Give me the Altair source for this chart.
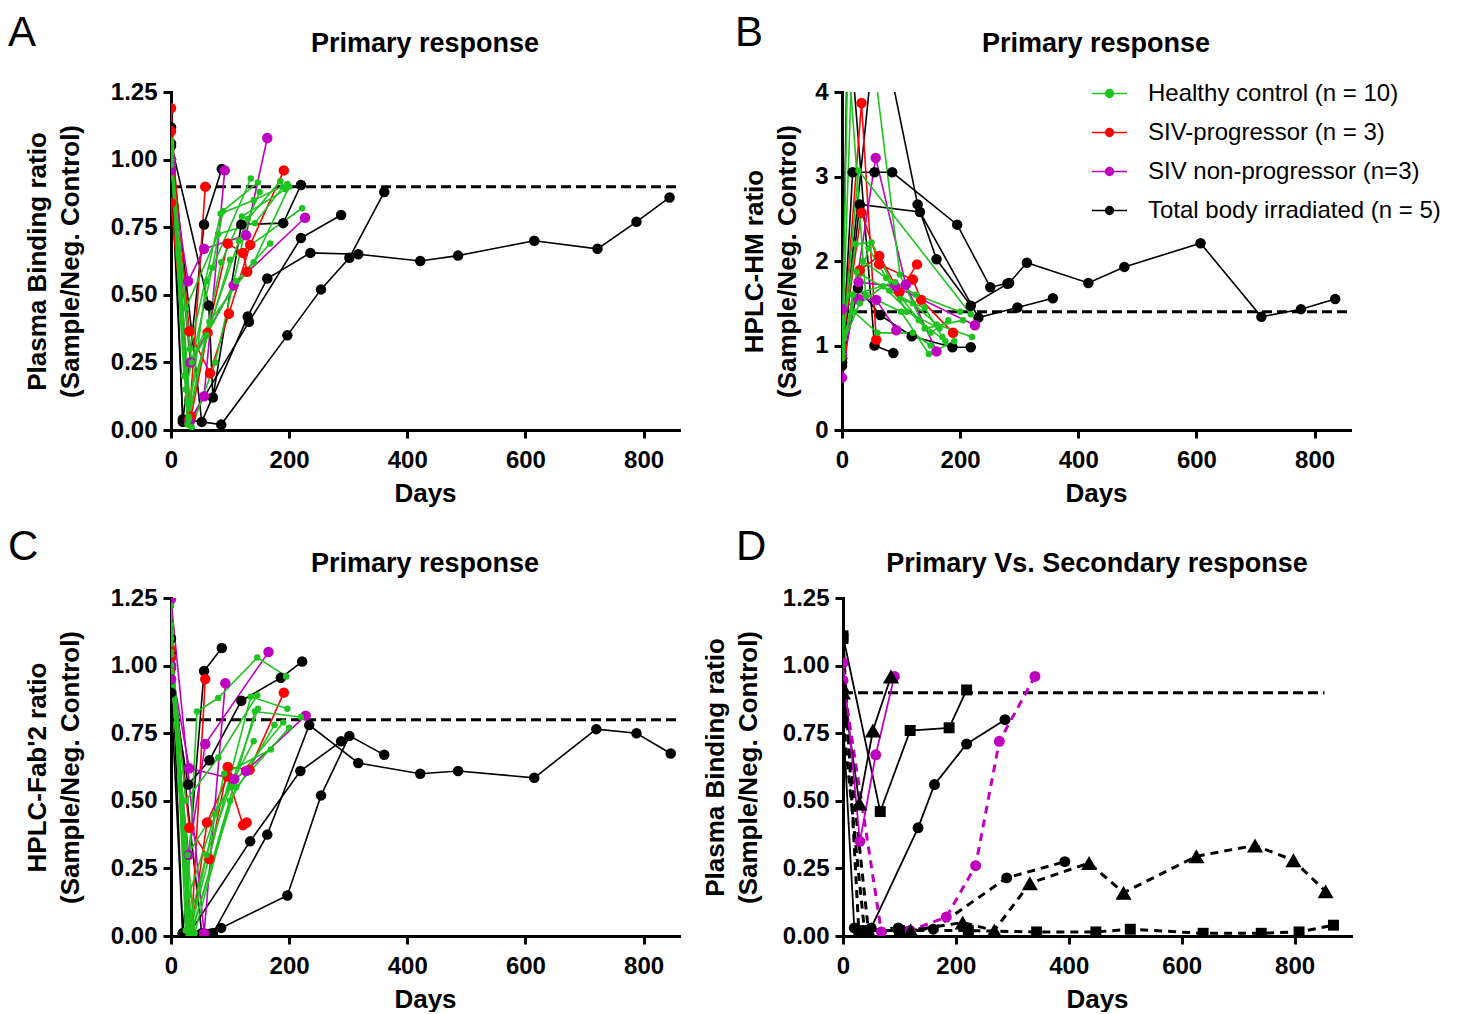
import altair as alt
import pandas as pd

FONT = "Liberation Sans"
GREEN, RED, PURPLE, BLACK = "#1ec41e", "#ff0000", "#c000c0", "#000000"
GROUPS = ["Healthy control (n = 10)", "SIV-progressor (n = 3)",
          "SIV non-progressor (n=3)", "Total body irradiated (n = 5)"]
COLORS = [GREEN, RED, PURPLE, BLACK]

# ---------------- Panel A : plasma binding ratio ----------------
A_black = [
    [(0, 1.12), (20, 0.03), (56, 0.76), (86, 0.965)],
    [(0, 1.06), (64, 0.46), (71, 0.12), (119, 0.76), (190, 0.765), (220, 0.906)],
    [(0, 1.00), (31, 0.03), (132, 0.40), (220, 0.71), (288, 0.795)],
    [(0, 0.98), (20, 0.04), (85, 0.02), (197, 0.35), (254, 0.52), (302, 0.637), (361, 0.88)],
    [(0, 1.05), (52, 0.03), (130, 0.42), (163, 0.56), (236, 0.655), (317, 0.65), (422, 0.625),
     (486, 0.645), (615, 0.70), (722, 0.67), (788, 0.77), (844, 0.86)],
]
A_red = [
    [(0, 1.19), (31, 0.04), (58, 0.90)],
    [(0, 1.105), (31, 0.365), (66, 0.21), (98, 0.43), (134, 0.685), (191, 0.96)],
    [(0, 0.84), (34, 0.05), (62, 0.36), (96, 0.69), (122, 0.655), (129, 0.585)],
]
A_purple = [
    [(0, 1.00), (31, 0.03), (56, 0.125), (91, 0.96)],
    [(0, 0.96), (29, 0.55), (56, 0.67), (127, 0.72), (163, 1.08)],
    [(0, 0.98), (33, 0.25), (106, 0.535), (227, 0.785)],
]
A_green = [
    [(0, 1.07), (28, 0.02), (60, 0.55), (135, 0.93)],
    [(0, 1.05), (25, 0.15), (70, 0.60), (88, 0.81), (147, 0.915)],
    [(0, 1.03), (30, 0.05), (85, 0.62), (120, 0.79), (194, 0.89)],
    [(0, 1.00), (32, 0.30), (84, 0.80), (140, 0.85), (197, 0.91)],
    [(0, 1.02), (28, 0.10), (100, 0.63), (222, 0.82)],
    [(0, 0.98), (35, 0.25), (110, 0.55), (168, 0.69)],
    [(0, 1.04), (25, 0.45), (80, 0.725), (142, 0.765), (190, 0.90)],
    [(0, 1.06), (30, 0.04), (60, 0.35), (115, 0.70), (150, 0.88)],
    [(0, 1.00), (22, 0.20), (65, 0.40), (140, 0.62), (200, 0.90)],
    [(0, 1.05), (35, 0.01), (75, 0.25), (130, 0.78), (185, 0.92)],
]

# ---------------- Panel B : HPLC-HM ratio ----------------
B_black = [
    [(0, 0.80), (18, 3.05), (55, 3.05), (85, 3.05), (195, 2.43), (251, 1.69), (283, 1.74),
     (313, 1.98), (417, 1.74), (478, 1.93), (607, 2.21), (710, 1.34), (777, 1.43), (835, 1.55)],
    [(0, 0.85), (60, 5.0), (128, 2.67), (160, 2.02), (218, 1.47), (280, 1.73)],
    [(0, 0.80), (30, 2.67), (132, 2.58), (231, 1.33), (297, 1.45), (357, 1.56)],
    [(0, 0.76), (27, 1.68), (65, 1.36), (118, 1.11), (187, 0.98), (218, 0.98)],
    [(0, 0.85), (10, 5.0), (55, 1.0), (87, 0.91)],
]
B_red = [
    [(0, 0.88), (33, 3.87), (58, 1.07)],
    [(0, 1.00), (33, 2.57), (63, 1.96), (120, 1.78), (134, 1.54), (188, 1.15)],
    [(0, 0.95), (30, 1.89), (63, 2.06), (97, 1.63), (127, 1.96)],
]
B_purple = [
    [(0, 0.62), (57, 3.22), (108, 1.72), (160, 0.93)],
    [(0, 1.43), (28, 1.55), (58, 1.54), (92, 1.18)],
    [(0, 0.90), (28, 1.75), (90, 1.70), (225, 1.24)],
]
B_green = [
    [(0, 0.90), (25, 6.0), (98, 1.84), (140, 1.20), (205, 1.30)],
    [(0, 0.95), (28, 3.07), (218, 1.37)],
    [(0, 1.05), (23, 2.20), (50, 2.22), (98, 1.55), (140, 1.45), (170, 1.10)],
    [(0, 0.85), (25, 1.87), (80, 1.65), (120, 1.50), (160, 1.25), (220, 1.10)],
    [(0, 0.90), (10, 4.5), (40, 1.60), (100, 1.40), (147, 0.90), (190, 1.05)],
    [(0, 1.10), (20, 1.40), (60, 1.15), (120, 1.15), (150, 1.00)],
    [(0, 0.95), (35, 2.00), (75, 1.80), (130, 1.30), (175, 1.05)],
    [(0, 1.00), (45, 2.15), (110, 1.40), (165, 1.20)],
    [(0, 0.85), (18, 1.60), (90, 1.75), (125, 1.60), (200, 1.40)],
    [(0, 1.00), (30, 1.50), (70, 1.70), (150, 1.15), (180, 1.30)],
]

# ---------------- Panel C : HPLC-Fab'2 ratio ----------------
C_black = [
    [(0, 1.10), (20, 0.01), (56, 0.98), (86, 1.065)],
    [(0, 0.95), (29, 0.56), (65, 0.65), (119, 0.87), (186, 0.955), (222, 1.015)],
    [(0, 1.00), (31, 0.01), (134, 0.35), (219, 0.61), (288, 0.72)],
    [(0, 0.90), (20, 0.01), (85, 0.03), (197, 0.15), (254, 0.52), (302, 0.74), (361, 0.67)],
    [(0, 1.05), (52, 0.01), (71, 0.01), (163, 0.375), (234, 0.78), (317, 0.64), (422, 0.60),
     (486, 0.61), (615, 0.585), (720, 0.765), (788, 0.75), (846, 0.675)],
]
C_red = [
    [(0, 1.06), (34, 0.00), (58, 0.95)],
    [(0, 1.03), (31, 0.40), (65, 0.285), (96, 0.625), (133, 0.615), (191, 0.90)],
    [(0, 0.99), (34, 0.01), (61, 0.42), (96, 0.59), (122, 0.41), (128, 0.42)],
]
C_purple = [
    [(0, 1.245), (56, 0.01), (92, 0.935)],
    [(0, 0.95), (30, 0.30), (58, 0.71), (165, 1.05)],
    [(0, 1.00), (31, 0.62), (107, 0.58), (127, 0.61), (228, 0.815)],
]
C_green = [
    [(0, 1.22), (25, 0.02), (44, 0.83), (80, 0.88), (146, 1.03), (195, 0.96)],
    [(0, 1.15), (30, 0.00), (135, 0.885), (197, 0.84)],
    [(0, 1.10), (35, 0.01), (142, 0.83), (220, 0.81)],
    [(0, 1.05), (28, 0.30), (100, 0.55), (190, 0.79)],
    [(0, 1.00), (32, 0.01), (90, 0.60), (169, 0.69)],
    [(0, 1.08), (25, 0.50), (80, 0.66), (146, 0.89)],
    [(0, 1.12), (35, 0.02), (110, 0.55), (200, 0.77)],
    [(0, 0.98), (30, 0.15), (75, 0.45), (140, 0.72)],
    [(0, 1.04), (28, 0.03), (60, 0.30), (147, 0.84)],
    [(0, 1.00), (40, 0.01), (100, 0.50), (175, 0.78)],
]

# ---------------- Panel D : primary vs secondary ----------------
D_series_names = ["tbi_sq_1", "tbi_tri_1", "tbi_ci_1", "np_1", "np_2", "tbi_sq_2", "tbi_tri_2", "tbi_ci_2"]
D_series_marker = ["square", "triangle", "circle", "circle", "circle", "square", "triangle", "circle"]
D_series_colour = ["TBI", "TBI", "TBI", "SIVnp", "SIVnp", "TBI", "TBI", "TBI"]
D_series_phase = ["primary", "primary", "primary", "primary", "secondary", "secondary", "secondary", "secondary"]
D_series_points = [
    [(0, 1.11), (66, 0.46), (119, 0.76), (188, 0.77), (219, 0.91)],
    [(0, 0.92), (29, 0.49), (53, 0.76), (85, 0.96)],
    [(0, 0.80), (20, 0.03), (50, 0.03), (133, 0.40), (162, 0.56), (219, 0.71), (287, 0.80)],
    [(0, 1.01), (30, 0.35), (58, 0.67), (91, 0.96)],
    [(0, 0.945), (68, 0.015), (119, 0.02), (183, 0.07), (235, 0.26), (277, 0.72), (340, 0.96)],
    [(0, 1.10), (28, 0.02), (100, 0.02), (222, 0.02), (343, 0.015), (448, 0.015), (509, 0.025),
     (638, 0.01), (741, 0.01), (808, 0.015), (869, 0.04)],
    [(0, 0.90), (45, 0.02), (120, 0.02), (212, 0.05), (268, 0.02), (331, 0.195), (436, 0.27),
     (497, 0.16), (626, 0.295), (730, 0.335), (798, 0.28), (855, 0.165)],
    [(0, 0.80), (38, 0.02), (98, 0.03), (160, 0.025), (290, 0.215), (393, 0.275)],
]

THRESH = {"A": 0.9, "B": 1.4, "C": 0.8, "D": 0.9}
THRESH_END = {"A": 860, "B": 860, "C": 860, "D": 853}

W, H = 508, 338
LEG_PATH = ("M-1,0L1,0"
            "M-0.22,0A0.22,0.22,0,1,0,0.22,0A0.22,0.22,0,1,0,-0.22,0"
            "M-0.13,0A0.13,0.13,0,1,0,0.13,0A0.13,0.13,0,1,0,-0.13,0"
            "M-0.05,0A0.05,0.05,0,1,0,0.05,0A0.05,0.05,0,1,0,-0.05,0")


def build(black, red, purple, green):
    rows = []
    for li, (g, sl) in enumerate([(3, black), (1, red), (2, purple), (0, green)]):
        for si, s in enumerate(sl):
            for oi, (d, v) in enumerate(s):
                rows.append(dict(group=GROUPS[g], sid=f"{li}_{si:02d}", ord=oi, day=d, value=v))
    return pd.DataFrame(rows)


def x_enc(xmax):
    return alt.X("day:Q", scale=alt.Scale(domain=[0, xmax], nice=False, zero=False),
                 axis=alt.Axis(values=[0, 200, 400, 600, 800], title="Days"))


def y_enc(ydom, yvals, yfmt, ytitle, tpad):
    return alt.Y("value:Q", scale=alt.Scale(domain=ydom, nice=False, zero=False),
                 axis=alt.Axis(values=yvals, format=yfmt, title=ytitle, titlePadding=tpad))


def texts(letter, title, lx, ly, ty):
    lt = alt.Chart(pd.DataFrame({"t": [letter]})).mark_text(
        font=FONT, fontSize=42, fontWeight="normal", align="left", baseline="alphabetic",
        color="black").encode(text="t:N", x=alt.value(lx), y=alt.value(ly))
    tt = alt.Chart(pd.DataFrame({"t": [title]})).mark_text(
        font=FONT, fontSize=27, fontWeight="bold", align="center", baseline="alphabetic",
        color="black").encode(text="t:N", x=alt.value(W / 2), y=alt.value(ty))
    return [lt, tt]


def rule_layer(key, xe, ye):
    df = pd.DataFrame({"day": [0], "day2": [THRESH_END[key]], "value": [THRESH[key]]})
    return alt.Chart(df).mark_rule(color="black", strokeWidth=3, strokeDash=[10, 5]).encode(
        x=xe, x2=alt.X2("day2:Q"), y=ye)


def panel(key, df, letter, title, ytitle, ydom, yvals, yfmt, tpad, lx, ly, ty, legend=False):
    xe = x_enc(860)
    ye = y_enc(ydom, yvals, yfmt, ytitle, tpad)
    if legend:
        leg = alt.Legend(title=None, orient="none", legendX=249, legendY=-17,
                         symbolType=LEG_PATH, symbolSize=1225, symbolStrokeWidth=1.6,
                         labelFont=FONT, labelFontSize=24, labelFontWeight="normal",
                         labelColor="black", labelOffset=20, rowPadding=8, labelLimit=600,
                         padding=0)
    else:
        leg = None
    cscale = alt.Scale(domain=GROUPS, range=COLORS)
    base = alt.Chart(df)
    lines = base.mark_line(strokeWidth=1.6, clip=True).encode(
        x=xe, y=ye, color=alt.Color("group:N", scale=cscale, legend=leg),
        detail="sid:N", order="ord:Q")
    pts_big = base.transform_filter(alt.datum.group != GROUPS[0]).mark_point(
        filled=True, opacity=1, clip=True, size=110).encode(
        x=xe, y=ye, color=alt.Color("group:N", scale=cscale, legend=None))
    pts_small = base.transform_filter(alt.datum.group == GROUPS[0]).mark_point(
        filled=True, opacity=1, clip=True, size=42).encode(
        x=xe, y=ye, color=alt.Color("group:N", scale=cscale, legend=None))
    return alt.layer(rule_layer(key, xe, ye), lines, pts_big, pts_small,
                     *texts(letter, title, lx, ly, ty)).properties(width=W, height=H)


dfA = build(A_black, A_red, A_purple, A_green)
dfB = build(B_black, B_red, B_purple, B_green)
dfC = build(C_black, C_red, C_purple, C_green)

YT2 = "(Sample/Neg. Control)"
pA = panel("A", dfA, "A", "Primary response", ["Plasma Binding ratio", YT2], [0, 1.25],
           [0, 0.25, 0.5, 0.75, 1.0, 1.25], ".2f", 27, -163, -46, -40)
pB = panel("B", dfB, "B", "Primary response", ["HPLC-HM ratio", YT2], [0, 4],
           [0, 1, 2, 3, 4], "d", 14, -107, -46, -40, legend=True)
pC = panel("C", dfC, "C", "Primary response", ["HPLC-Fab'2 ratio", YT2], [0, 1.25],
           [0, 0.25, 0.5, 0.75, 1.0, 1.25], ".2f", 27, -163, -38, -26)

# Panel D
drows = []
for n, mk, col, ph, pts_ in zip(D_series_names, D_series_marker, D_series_colour, D_series_phase, D_series_points):
    for oi, (d, v) in enumerate(pts_):
        drows.append(dict(sid=n, marker=mk, who=col, phase=ph, ord=oi, day=d, value=v))
dfD = pd.DataFrame(drows)

xeD = x_enc(900)
yeD = y_enc([0, 1.25], [0, 0.25, 0.5, 0.75, 1.0, 1.25], ".2f", ["Plasma Binding ratio", YT2], 21)
dcol = alt.Color("who:N", scale=alt.Scale(domain=["TBI", "SIVnp"], range=[BLACK, PURPLE]), legend=None)
baseD = alt.Chart(dfD)
primD = baseD.transform_filter(alt.datum.phase == "primary").mark_line(strokeWidth=1.8, clip=True).encode(
    x=xeD, y=yeD, color=dcol, detail="sid:N", order="ord:Q")
secD = baseD.transform_filter(alt.datum.phase == "secondary").mark_line(
    strokeWidth=3, strokeDash=[8, 6], clip=True).encode(
    x=xeD, y=yeD, color=dcol, detail="sid:N", order="ord:Q")
marker_layers = []
for mk, shp, sz in [("circle", "circle", 120), ("square", "square", 120), ("triangle", "triangle-up", 260)]:
    marker_layers.append(
        baseD.transform_filter(alt.datum.marker == mk).mark_point(
            filled=True, opacity=1, clip=True, shape=shp, size=sz).encode(x=xeD, y=yeD, color=dcol))
pD = alt.layer(rule_layer("D", xeD, yeD), secD, primD, *marker_layers,
               *texts("D", "Primary Vs. Secondary response", -107, -38, -26)).properties(width=W, height=H)

row1 = alt.hconcat(pA, pB, spacing=54).resolve_scale(color="independent")
row2 = alt.hconcat(pC, pD, spacing=21).resolve_scale(color="independent")

chart = alt.vconcat(row1, row2, spacing=20).resolve_scale(color="independent").properties(
    padding={"left": 0, "top": 4, "right": 0, "bottom": 0}
).configure_view(stroke=None).configure_axis(
    domainColor="black", domainWidth=3, domainCap="square", tickColor="black", tickWidth=3, tickSize=8,
    labelFont=FONT, labelFontSize=24, labelFontWeight="bold", labelColor="black", labelPadding=4,
    titleFont=FONT, titleFontSize=26, titleFontWeight="bold", titleColor="black", titleLineHeight=33,
    grid=False, labelFlush=False
).configure_axisX(titlePadding=8, labelPadding=10).configure_axisY(labelPadding=6)

chart.save("out.html", embed_options={"renderer": "svg", "actions": False})
